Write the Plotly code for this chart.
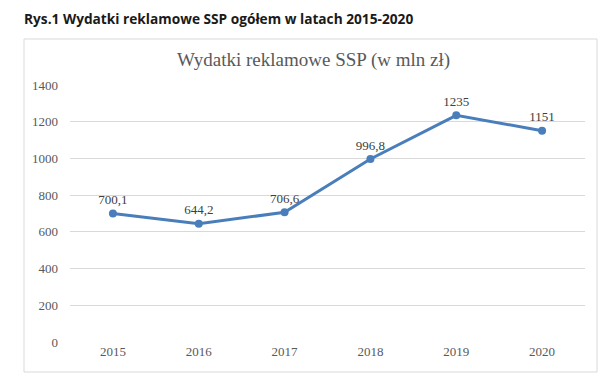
import plotly.graph_objects as go

years = ["2015", "2016", "2017", "2018", "2019", "2020"]
values = [700.1, 644.2, 706.6, 996.8, 1235, 1151]
labels = ["700,1", "644,2", "706,6", "996,8", "1235", "1151"]
yticks = [0, 200, 400, 600, 800, 1000, 1200, 1400]

W, H = 608, 383
L, R, T, B = 70, 585, 85, 342

fig = go.Figure()
fig.add_trace(go.Scatter(
    x=list(range(len(years))), y=values, mode="lines+markers+text",
    text=labels, textposition="top center",
    textfont=dict(family="Liberation Serif", size=13, color="#404040"),
    line=dict(color="#4a7ebb", width=3),
    marker=dict(color="#4a7ebb", size=8),
    cliponaxis=False, hoverinfo="skip",
))

fig.update_layout(
    width=W, height=H,
    margin=dict(l=L, r=W - R, t=T, b=H - B),
    paper_bgcolor="white", plot_bgcolor="white",
    showlegend=False,
    xaxis=dict(
        range=[-0.5, 5.5], tickmode="array",
        tickvals=list(range(len(years))), ticktext=years,
        showgrid=False, zeroline=False, showline=False,
        tickfont=dict(family="Liberation Serif", size=13, color="#595959"),
        ticks="", fixedrange=True,
    ),
    yaxis=dict(
        range=[0, 1400], tickmode="array", tickvals=yticks,
        ticktext=[str(v) for v in yticks],
        showgrid=True, gridcolor="#d9d9d9", gridwidth=1,
        zeroline=False, showline=False, ticks="",
        ticklabelstandoff=11,
        tickfont=dict(family="Liberation Serif", size=13, color="#595959"),
        fixedrange=True,
    ),
    shapes=[dict(type="rect", xref="paper", yref="paper",
                 x0=(24 - L) / (R - L), x1=(597 - L) / (R - L),
                 y0=(B - 372) / (B - T), y1=(B - 39) / (B - T),
                 line=dict(color="#d9d9d9", width=1), layer="below")],
    annotations=[
        dict(text="<b>Rys.1 Wydatki reklamowe SSP ogółem w latach 2015-2020</b>",
             xref="paper", yref="paper",
             x=(22 - L) / (R - L), y=(B - 18) / (B - T),
             xanchor="left", yanchor="middle", showarrow=False,
             font=dict(family="Open Sans", size=13.7, color="#1a1a1a")),
        dict(text="Wydatki reklamowe SSP (w mln zł)",
             xref="paper", yref="paper",
             x=(313 - L) / (R - L), y=(B - 60) / (B - T),
             xanchor="center", yanchor="middle", showarrow=False,
             font=dict(family="Liberation Serif", size=19, color="#595959")),
    ],
)

fig.write_html("out.html", config={"displayModeBar": False})
with open("out.html", encoding="utf-8") as f:
    html = f.read()
html = html.replace("<head>", "<head><style>html,body{margin:0;padding:0;overflow:hidden}</style>", 1)
with open("out.html", "w", encoding="utf-8") as f:
    f.write(html)
